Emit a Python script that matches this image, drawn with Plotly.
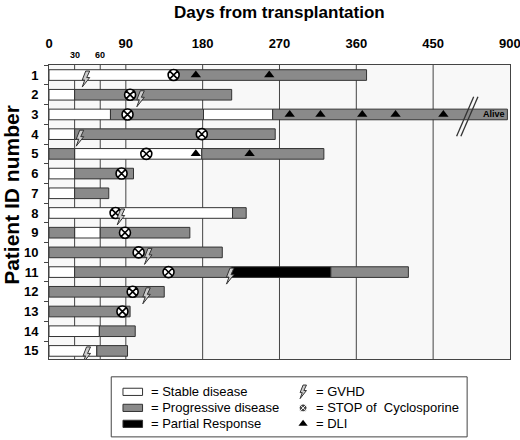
import plotly.graph_objects as go

# disease course segments, one entry per bar piece (days are display positions,
# the last axis stretch 450 -> "900" is compressed)
seg_patient = [1, 1,
               2, 2,
               3, 3, 3, 3,
               4, 4,
               5, 5, 5,
               6, 6,
               7, 7,
               8, 8,
               9, 9, 9,
               10,
               11, 11, 11, 11,
               12,
               13,
               14, 14,
               15, 15]
seg_start = [0, 146,
             0, 30,
             0, 72, 181, 262,
             0, 30,
             0, 30, 179,
             0, 30,
             0, 30,
             0, 215,
             0, 30, 60,
             0,
             0, 30, 214, 330,
             0,
             0,
             0, 59,
             0, 56]
seg_end = [146, 372,
           30, 214,
           72, 181, 262, 537,
           30, 265,
           30, 179, 322,
           30, 99,
           30, 70,
           215, 231,
           30, 60, 165,
           203,
           30, 214, 330, 421,
           135,
           95,
           59, 101,
           56, 92]
seg_state = ["S", "P",
             "S", "P",
             "S", "P", "S", "P",
             "S", "P",
             "P", "S", "P",
             "S", "P",
             "S", "P",
             "S", "P",
             "P", "S", "P",
             "P",
             "S", "P", "R", "P",
             "P",
             "P",
             "S", "P",
             "S", "P"]

stop_patient = [1, 2, 3, 4, 5, 6, 8, 9, 10, 11, 12, 13]
stop_day = [146, 95, 92, 179, 114, 85, 78, 89, 105, 140, 98, 86]

gvhd_patient = [1, 2, 4, 8, 10, 11, 12, 15]
gvhd_day = [43, 107, 36, 84, 116, 212, 114, 44]

dli_patient = [1, 1, 3, 3, 3, 3, 3, 5, 5]
dli_day = [172, 258, 282, 318, 367, 406, 462, 172, 235]

tick_days = [0, 90, 180, 270, 360, 450, 540]
tick_text = ["0", "90", "180", "270", "360", "450", "900"]
grid_days = [30, 60, 90, 180, 270, 360, 450]
small_days = [30, 60]

patients = list(range(1, 16))

state_style = {
    "S": ("Stable disease", "#ffffff"),
    "P": ("Progressive disease", "#8a8a8a"),
    "R": ("Partial Response", "#000000"),
}
EDGE = "#333333"
FONT = "Arial, Liberation Sans, sans-serif"

fig = go.Figure()

for key, (name, color) in state_style.items():
    idx = [i for i, s in enumerate(seg_state) if s == key]
    fig.add_trace(go.Bar(
        y=[seg_patient[i] for i in idx],
        x=[seg_end[i] - seg_start[i] for i in idx],
        base=[seg_start[i] for i in idx],
        orientation="h", width=0.54, name=name,
        marker=dict(color=color, line=dict(color=EDGE, width=1)),
        showlegend=False, hoverinfo="skip",
    ))

fig.add_trace(go.Scatter(
    x=stop_day, y=stop_patient, mode="markers",
    marker=dict(symbol="circle-x", size=11, color="white",
                line=dict(color="black", width=1.6)),
    showlegend=False, hoverinfo="skip",
))
fig.add_trace(go.Scatter(
    x=dli_day, y=dli_patient, mode="markers",
    marker=dict(symbol="triangle-up", size=9, color="black"),
    showlegend=False, hoverinfo="skip",
))

# lightning bolt drawn in pixels around an anchor point
def bolt(scale=1.0, dy=0.0):
    pts = [(0, 8), (4, 8), (1, 1.5), (4, 1.5), (-3.5, -8), (-1, -1), (-3.5, -1)]
    p = " L ".join(f"{x * scale:.1f},{(y + dy) * scale:.1f}" for x, y in pts)
    return "M " + p + " Z"

for d, p in zip(gvhd_day, gvhd_patient):
    fig.add_shape(type="path", xref="x", yref="y",
                  xsizemode="pixel", ysizemode="pixel",
                  xanchor=d, yanchor=p, path=bolt(1.0, -4),
                  fillcolor="#cccccc", line=dict(color="#333333", width=1))

# axis break marks on row 3
break_day = 490
for off in (-2.5, 2.5):
    fig.add_shape(type="line", xref="x", yref="y",
                  x0=break_day - 10 + off, y0=4.1, x1=break_day + 10 + off, y1=2.1,
                  line=dict(color="#333333", width=1.3))

fig.add_annotation(x=521, y=3, text="<b>Alive</b>", showarrow=False,
                   font=dict(size=9, color="black", family=FONT))

for d in small_days:
    fig.add_annotation(x=d, xref="x", y=1.027, yref="paper", text=f"<b>{d}</b>",
                       showarrow=False, yanchor="middle",
                       font=dict(size=9, color="black", family=FONT))

fig.add_annotation(x=0.499, xref="paper", y=1.142, yref="paper",
                   text="<b>Days from transplantation</b>", showarrow=False,
                   xanchor="center", yanchor="middle",
                   font=dict(size=17, color="black", family=FONT))
fig.add_annotation(x=-0.081, xref="paper", y=0.651, yref="paper", textangle=-90,
                   text="<b>Patient ID number</b>", showarrow=False,
                   xanchor="center", yanchor="middle",
                   font=dict(size=21, color="black", family=FONT))

# legend panel on its own hidden axes below the plot
fig.add_shape(type="rect", xref="x2 domain", yref="y2 domain", x0=0, x1=1, y0=0, y1=1,
              line=dict(color="#444444", width=1), fillcolor="white", layer="below")
leg_rows = [0.75, 0.483, 0.217]
for (key, (name, color)), ly in zip(state_style.items(), leg_rows):
    fig.add_shape(type="rect", xref="x2", yref="y2", x0=0.033, x1=0.088,
                  y0=ly - 0.06, y1=ly + 0.06, fillcolor=color,
                  line=dict(color=EDGE, width=1))
    fig.add_annotation(x=0.107, y=ly, xref="x2", yref="y2", xanchor="left",
                       text="= " + name, showarrow=False,
                       font=dict(size=13, color="black", family=FONT))

sym_names = ["GVHD", "STOP of  Cyclosporine", "DLI"]
for name, ly in zip(sym_names, leg_rows):
    fig.add_annotation(x=0.57, y=ly, xref="x2", yref="y2", xanchor="left",
                       text="= " + name, showarrow=False,
                       font=dict(size=13, color="black", family=FONT))
fig.add_shape(type="path", xref="x2", yref="y2", xsizemode="pixel", ysizemode="pixel",
              xanchor=0.539, yanchor=leg_rows[0], path=bolt(0.85, 0),
              fillcolor="#cccccc", line=dict(color="#333333", width=1))
fig.add_trace(go.Scatter(
    x=[0.539], y=[leg_rows[1]], xaxis="x2", yaxis="y2", mode="markers",
    marker=dict(symbol="circle-x", size=8, color="#444444",
                line=dict(color="white", width=1)),
    showlegend=False, hoverinfo="skip",
))
fig.add_trace(go.Scatter(
    x=[0.539], y=[leg_rows[2]], xaxis="x2", yaxis="y2", mode="markers",
    marker=dict(symbol="triangle-up", size=8, color="black"),
    showlegend=False, hoverinfo="skip",
))

fig.update_layout(
    width=520, height=440,
    margin=dict(l=49, r=10, t=65, b=2, autoexpand=False),
    paper_bgcolor="white", plot_bgcolor="#f8f8f8",
    barmode="overlay", showlegend=False,
    font=dict(family=FONT, color="black"),
    xaxis=dict(
        range=[0, 540.05], side="top", domain=[0, 1], automargin=False,
        tickvals=tick_days, ticktext=tick_text, ticklabeloverflow="allow",
        tickfont=dict(size=13, weight="bold"),
        ticks="outside", ticklen=11, tickcolor="rgba(0,0,0,0)",
        showgrid=False, zeroline=False,
        showline=True, linecolor="#444444", linewidth=1, mirror=True,
    ),
    yaxis=dict(
        range=[15.41, 0.49], domain=[0.2118, 1], automargin=False,
        tickvals=patients, ticks="", ticklabelstandoff=7,
        tickfont=dict(size=13, weight="bold"),
        minor=dict(tick0=0.5, dtick=1, ticks="outside", ticklen=4,
                   tickcolor="#444444", showgrid=False),
        showgrid=False, zeroline=False,
        showline=True, linecolor="#444444", linewidth=1, mirror=True,
    ),
    xaxis2=dict(domain=[0.135, 0.907], range=[0, 1], anchor="y2", visible=False),
    yaxis2=dict(domain=[0.003, 0.164], range=[0, 1], anchor="x2", visible=False),
)

for d in grid_days:
    fig.add_shape(type="line", xref="x", yref="y domain", x0=d, x1=d, y0=0, y1=1,
                  line=dict(color="#444444", width=1), layer="below")

# drop the page's default body margin so the figure sits at the window corner
fig.write_html("out.html", config={"displayModeBar": False},
               post_script="document.body.style.margin='0';")
